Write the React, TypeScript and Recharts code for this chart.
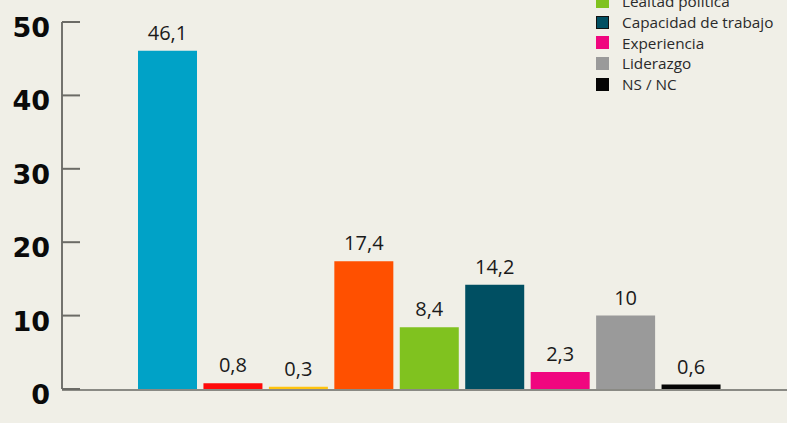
import { BarChart, Bar, XAxis, YAxis, Cell, LabelList } from "recharts";

const categories = [
  "Cat 1",
  "Cat 2",
  "Cat 3",
  "Cat 4",
  "Lealtad política",
  "Capacidad de trabajo",
  "Experiencia",
  "Liderazgo",
  "NS / NC",
];
const values = [46.1, 0.8, 0.3, 17.4, 8.4, 14.2, 2.3, 10, 0.6];
const barColors = [
  "#00a2c7",
  "#ff0a0a",
  "#ffc40f",
  "#ff5000",
  "#80c21f",
  "#004f62",
  "#f0067f",
  "#9a9a9a",
  "#050505",
];
const legendNames = ["Lealtad política", "Capacidad de trabajo", "Experiencia", "Liderazgo", "NS / NC"];
const legendColors = ["#80c21f", "#004f62", "#f0067f", "#9a9a9a", "#050505"];
const yTicks = [0, 10, 20, 30, 40, 50];

const data = categories.map((name, i) => ({ name, value: values[i] }));

const AXIS_X = 62;

function YTick(props: any) {
  const { y, payload } = props;
  return (
    <g>
      <line x1={AXIS_X} x2={AXIS_X + 18} y1={y} y2={y} stroke="#6b6b66" strokeWidth={2} />
      <text
        x={AXIS_X - 12}
        y={y + 15}
        textAnchor="end"
        fontFamily="DejaVu Sans"
        fontWeight="bold"
        fontSize={27}
        fill="#0a0a0a"
      >
        {payload.value}
      </text>
    </g>
  );
}

function LegendBox() {
  return (
    <div
      style={{
        position: "absolute",
        top: -9,
        left: 596,
        fontFamily: "Open Sans",
        fontSize: 15.3,
        color: "#2a2a2a",
      }}
    >
      {legendNames.map((name, i) => (
        <div key={name} style={{ display: "flex", alignItems: "center", height: 20.7 }}>
          <span
            style={{
              width: 13,
              height: 13,
              background: legendColors[i],
              marginRight: 13,
              boxSizing: "border-box",
              border: i === 1 ? "1.5px solid #111" : "none",
            }}
          />
          <span>{name}</span>
        </div>
      ))}
    </div>
  );
}

export default function App() {
  return (
    <div style={{ position: "absolute", left: 0, top: 0, width: 787, height: 423, background: "#f0efe7", overflow: "hidden" }}>
      <BarChart
        width={787}
        height={423}
        data={data}
        margin={{ top: 22, right: 0, left: 0, bottom: 24 }}
        barSize={59}
      >
        <XAxis
          dataKey="name"
          height={10}
          tick={false}
          tickLine={false}
          axisLine={{ stroke: "#8a8a84", strokeWidth: 2, transform: "translate(0,1)" }}
          padding={{ left: 73, right: 63 }}
        />
        <YAxis
          width={AXIS_X}
          domain={[0, 50]}
          ticks={yTicks}
          interval={0}
          tickLine={false}
          axisLine={{ stroke: "#4a4a46", strokeWidth: 1.5 }}
          tick={<YTick />}
        />
        <Bar dataKey="value" isAnimationActive={false}>
          {data.map((d, i) => (
            <Cell key={d.name} fill={barColors[i]} />
          ))}
          <LabelList
            dataKey="value"
            position="top"
            offset={11}
            fill="#1a1a1a"
            fontSize={20}
            fontFamily="Open Sans"
            formatter={(v: any) => String(v).replace(".", ",")}
          />
        </Bar>
      </BarChart>
      <LegendBox />
    </div>
  );
}
